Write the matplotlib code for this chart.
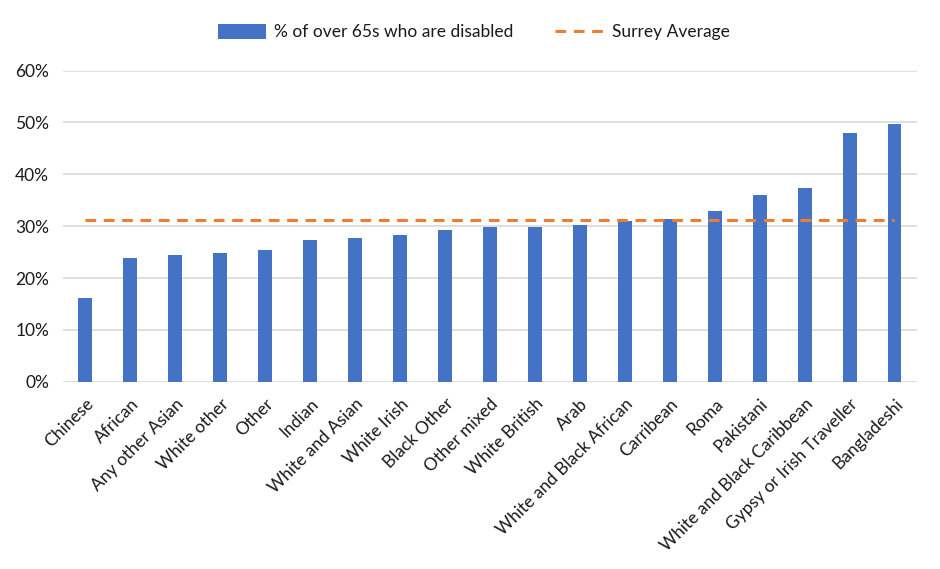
import matplotlib
matplotlib.use("Agg")
import matplotlib.pyplot as plt
from matplotlib.ticker import FuncFormatter

groups = ["Chinese", "African", "Any other Asian", "White other", "Other", "Indian",
          "White and Asian", "White Irish", "Black Other", "Other mixed", "White British",
          "Arab", "White and Black African", "Carribean", "Roma", "Pakistani",
          "White and Black Caribbean", "Gypsy or Irish Traveller", "Bangladeshi"]
disabled_pct = [0.161, 0.239, 0.244, 0.248, 0.254, 0.273, 0.277, 0.283, 0.293, 0.298,
                0.298, 0.302, 0.310, 0.314, 0.329, 0.360, 0.374, 0.480, 0.497]
surrey_avg = 0.311

plt.rcParams['font.family'] = ['Lato', 'DejaVu Sans']
plt.rcParams['font.size'] = 12.5

fig = plt.figure(figsize=(9.4, 5.69), dpi=100)
ax = fig.add_axes([0.067, 0.329, 0.9085, 0.547])

x = list(range(len(groups)))
bars = ax.bar(x, disabled_pct, width=0.31, color='#4472C4', zorder=3,
              label='% of over 65s who are disabled')
line, = ax.plot(x, [surrey_avg] * len(x), color='#ED7D31', linewidth=2.2,
                linestyle=(0, (3.5, 2.5)), zorder=4, label='Surrey Average')

ax.set_xlim(-0.5, len(groups) - 0.5)
ax.set_ylim(0, 0.6)
ax.set_yticks([0, 0.1, 0.2, 0.3, 0.4, 0.5, 0.6])
ax.yaxis.set_major_formatter(FuncFormatter(lambda v, p: f"{v*100:.0f}%"))
ax.grid(axis='y', color='#D9D9D9', linewidth=1.2, zorder=0)
for s in ax.spines.values():
    s.set_visible(False)
ax.tick_params(axis='both', length=0, colors='#1a1a1a', labelsize=12.5)
ax.tick_params(axis='y', pad=10)

ax.set_xticks(x)
ax.set_xticklabels(groups, rotation=45, ha='right', rotation_mode='anchor')
ax.tick_params(axis='x', pad=10)

fig.legend([bars, line], ['% of over 65s who are disabled', 'Surrey Average'],
           loc='upper center', bbox_to_anchor=(0.504, 0.985), ncol=2, frameon=False,
           fontsize=12.5, columnspacing=2.4, handlelength=2.8, handletextpad=0.45,
           handleheight=0.9, labelcolor='#1a1a1a')

fig.savefig('out.png', dpi=100, facecolor='white')
